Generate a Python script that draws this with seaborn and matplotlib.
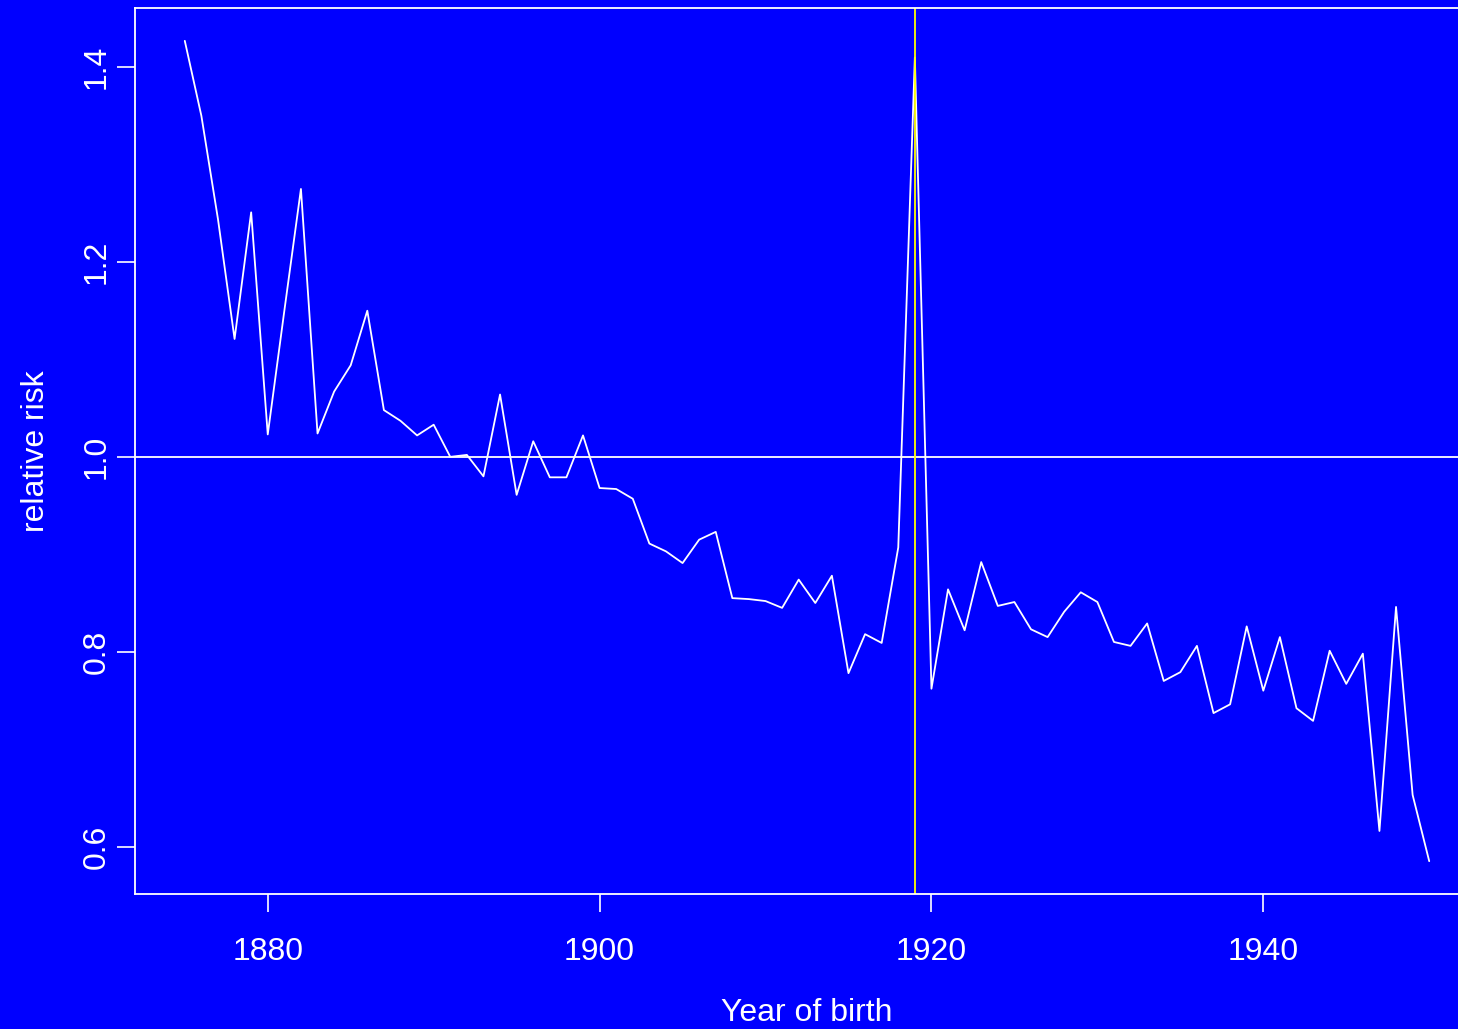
import numpy as np
import pandas as pd
import matplotlib
matplotlib.use("Agg")
import matplotlib.pyplot as plt
import seaborn as sns

# Relative risk by year of birth
years = list(range(1875, 1951))
relative_risk = [
    1.427, 1.350, 1.244, 1.121, 1.251, 1.023, 1.150, 1.275, 1.024, 1.067,
    1.094, 1.150, 1.048, 1.037, 1.022, 1.033, 1.000, 1.002, 0.980, 1.064,
    0.961, 1.016, 0.979, 0.979, 1.022, 0.968, 0.967, 0.957, 0.911, 0.903,
    0.891, 0.915, 0.923, 0.855, 0.854, 0.852, 0.845, 0.874, 0.850, 0.878,
    0.778, 0.818, 0.809, 0.907, 1.410, 0.762, 0.864, 0.822, 0.892, 0.847,
    0.851, 0.823, 0.815, 0.841, 0.861, 0.851, 0.810, 0.806, 0.829, 0.770,
    0.779, 0.806, 0.737, 0.746, 0.826, 0.760, 0.815, 0.742, 0.729, 0.801,
    0.767, 0.798, 0.616, 0.846, 0.653, 0.585,
]
x_ticks = [1880, 1900, 1920, 1940]
y_ticks = [0.6, 0.8, 1.0, 1.2, 1.4]
reference_level = 1.0
marked_year = 1919

df = pd.DataFrame({"year": years, "rr": relative_risk})

sns.set_theme(style="white")
plt.rcParams["font.family"] = ["Liberation Sans", "DejaVu Sans"]

bg = "#0000FF"
fig = plt.figure(figsize=(14.58, 10.29), dpi=100, facecolor=bg)
ax = fig.add_axes([0.0926, 0.1312, 0.9218, 0.8610])
ax.set_facecolor(bg)

sns.lineplot(data=df, x="year", y="rr", ax=ax, color="white", linewidth=1.3)
ax.axhline(reference_level, color="white", linewidth=1.3)
ax.axvline(marked_year, color="yellow", linewidth=1.3)

# R-style 4% padding around the data range
xr = max(years) - min(years)
ax.set_xlim(min(years) - 0.04 * xr, max(years) + 0.04 * xr)
yr = max(relative_risk) - min(relative_risk)
ax.set_ylim(min(relative_risk) - 0.04 * yr, max(relative_risk) + 0.04 * yr)

ax.set_xticks(x_ticks)
ax.set_yticks(y_ticks)
ax.set_xticklabels([str(t) for t in x_ticks])
ax.set_yticklabels([f"{t:.1f}" for t in y_ticks], rotation=90, va="center")

for s in ax.spines.values():
    s.set_color("white")
    s.set_linewidth(1.3)
    s.set_visible(True)

ax.tick_params(axis="both", which="major", bottom=True, left=True,
               colors="white", labelcolor="white", labelsize=23,
               length=13, width=1.2, direction="out")
ax.tick_params(axis="x", pad=18)
ax.tick_params(axis="y", pad=4)

ax.set_xlabel("Year of birth", color="white", fontsize=23, labelpad=22)
ax.set_ylabel("relative risk", color="white", fontsize=23, labelpad=22)

fig.savefig("out.png", dpi=100, facecolor=bg)
